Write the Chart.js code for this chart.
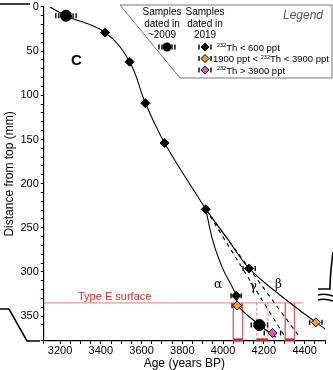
<!DOCTYPE html>
<html>
<head>
<meta charset="utf-8">
<script src="https://cdn.jsdelivr.net/npm/chart.js@4.4.1/dist/chart.umd.min.js"></script>
<style>
  html, body { margin: 0; padding: 0; background: #fff; }
  #wrap { width: 333px; height: 370px; }
</style>
</head>
<body>
<div id="wrap"><canvas id="ageChart" width="333" height="370"></canvas></div>
<script>
// age model curves (age BP, depth mm)
var mainCurve = [[3150, 0], [3229, 10], [3421, 29], [3541, 62], [3619, 109], [3713, 154], [3915, 229]];
var alphaCurve = [[3915, 229], [3950, 265], [4000, 297], [4045, 317], [4066, 328], [4072, 338], [4178, 360], [4260, 374]];
var betaCurve = [[3915, 229], [4020, 262], [4128, 296], [4290, 328], [4455, 357], [4510, 366]];
var gammaLeft = [[3915, 229], [4300, 372]];
var gammaRight = [[3915, 229], [4370, 372]];

// samples
var black2009 = [[3229, 10], [4178, 360]];
var black2009Err = [50, 40];
var black2019 = [[3421, 29], [3541, 62], [3619, 109], [3713, 154], [3915, 229], [4128, 296], [4064, 327]];
var black2019Err = [0, 0, 0, 0, 0, 30, 25];
var orange2019 = [[4069, 338], [4455, 357]];
var orange2019Err = [25, 30];
var magenta2019 = [[4242, 369]];
var magenta2019Err = [40];

// Type E surface and the age windows
var typeEDepth = 335;
var typeEEnd = 4390;
var solidWindows = [[4050, 4095], [4305, 4350]];
var dashedWindow = [4165, 4220];

var xMin = 3120, xMax = 4500, yMin = 0, yMax = 378;

var FONT = '"Liberation Sans", Arial, sans-serif';

function toXY(arr) {
    return arr.map(function (p) { return { x: p[0], y: p[1] }; });
}

function verticals(xs, dashed) {
    var pts = [];
    xs.forEach(function (x) {
        pts.push({ x: x, y: typeEDepth });
        pts.push({ x: x, y: yMax });
        pts.push({ x: x, y: null });
    });
    return {
        data: pts, borderColor: 'rgba(220,90,90,0.75)', borderWidth: 1,
        borderDash: dashed ? [3, 2] : [], pointRadius: 0, spanGaps: false, order: 5
    };
}

function curve(arr, dash, tension) {
    return {
        data: toXY(arr), borderColor: '#000', borderWidth: 1.1, borderDash: dash || [],
        pointRadius: 0, tension: tension || 0, order: 4
    };
}

function points(arr, errs, color, style, radius, dotted) {
    return {
        data: toXY(arr), showLine: false, pointStyle: style, pointRadius: radius,
        backgroundColor: color, borderColor: '#000', borderWidth: 1,
        xErr: errs, dottedErr: dotted, order: 1
    };
}

var datasets = [
    verticals([solidWindows[0][0], solidWindows[0][1], solidWindows[1][0], solidWindows[1][1]], false),
    verticals(dashedWindow, true),
    {
        data: [{ x: xMin, y: typeEDepth }, { x: typeEEnd, y: typeEDepth }],
        borderColor: 'rgba(225,110,110,0.7)', borderWidth: 1.2, pointRadius: 0, order: 5
    },
    curve(mainCurve, null, 0.4),
    curve(alphaCurve, null, 0.35),
    curve(betaCurve, null, 0.4),
    curve(gammaLeft, [4, 4], 0),
    curve(gammaRight, [4, 4], 0),
    points(black2019, black2019Err, '#000', 'rectRot', 4.5, false),
    points(orange2019, orange2019Err, '#f39a2b', 'rectRot', 4.5, false),
    points(magenta2019, magenta2019Err, '#e44bd0', 'rectRot', 4.5, false),
    points(black2009, black2009Err, '#000', 'circle', 5.5, true)
];

function errBar(ctx, cx, cy, half, dotted) {
    ctx.save();
    ctx.strokeStyle = '#000';
    ctx.lineWidth = 1.4;
    ctx.beginPath();
    ctx.moveTo(cx - half, cy - 2.5); ctx.lineTo(cx - half, cy + 2.5);
    ctx.moveTo(cx + half, cy - 2.5); ctx.lineTo(cx + half, cy + 2.5);
    if (dotted) {
        ctx.moveTo(cx - half + 3, cy - 2.5); ctx.lineTo(cx - half + 3, cy + 2.5);
        ctx.moveTo(cx + half - 3, cy - 2.5); ctx.lineTo(cx + half - 3, cy + 2.5);
    }
    ctx.stroke();
    ctx.restore();
}

function diamond(ctx, x, y, r, fill) {
    ctx.beginPath();
    ctx.moveTo(x, y - r); ctx.lineTo(x + r, y); ctx.lineTo(x, y + r); ctx.lineTo(x - r, y);
    ctx.closePath();
    ctx.fillStyle = fill; ctx.fill();
    ctx.strokeStyle = '#000'; ctx.lineWidth = 1; ctx.stroke();
}

function thText(ctx, x, y, before, after) {
    ctx.font = '9.5px ' + FONT;
    ctx.fillText(before, x, y);
    x += ctx.measureText(before).width;
    ctx.font = '5.5px ' + FONT;
    ctx.fillText('232', x, y - 3.5);
    x += ctx.measureText('232').width;
    ctx.font = '9.5px ' + FONT;
    ctx.fillText('Th' + after, x, y);
}

var errorBars = {
    id: 'errorBars',
    beforeDatasetsDraw: function (chart) {
        var ctx = chart.ctx;
        var xs = chart.scales.x;
        chart.data.datasets.forEach(function (ds, i) {
            if (!ds.xErr) return;
            chart.getDatasetMeta(i).data.forEach(function (el, j) {
                var e = ds.xErr[j];
                if (!e) return;
                var half = xs.getPixelForValue(ds.data[j].x + e) - el.x;
                errBar(ctx, el.x, el.y, half, ds.dottedErr);
            });
        });
    }
};

var extras = {
    id: 'extras',
    afterDraw: function (chart) {
        var ctx = chart.ctx;
        var xs = chart.scales.x, ys = chart.scales.y;
        var X = function (v) { return xs.getPixelForValue(v); };
        var Y = function (v) { return ys.getPixelForValue(v); };
        var bottom = chart.chartArea.bottom;

        ctx.save();
        // thick red marks on the age axis
        ctx.strokeStyle = '#c0282d';
        ctx.lineWidth = 3;
        solidWindows.concat([dashedWindow]).forEach(function (w) {
            ctx.beginPath();
            ctx.moveTo(X(w[0]), bottom - 1);
            ctx.lineTo(X(w[1]), bottom - 1);
            ctx.stroke();
        });

        ctx.fillStyle = '#cc2a2a';
        ctx.font = '11px ' + FONT;
        ctx.textAlign = 'left';
        ctx.textBaseline = 'alphabetic';
        ctx.fillText('Type E surface', 78, Y(typeEDepth) - 3);

        ctx.fillStyle = '#000';
        ctx.font = 'bold 15px ' + FONT;
        ctx.fillText('C', 71, 65);

        ctx.font = '12px "DejaVu Serif", "Liberation Serif", serif';
        ctx.textAlign = 'center';
        ctx.fillText('\u03b1', X(3975), Y(318));
        ctx.fillText('\u03b3', X(4148), Y(320));
        ctx.fillText('\u03b2', X(4272), Y(318));

        // broken-axis marks outside the frame
        ctx.strokeStyle = '#000';
        ctx.lineWidth = 1.6;
        ctx.beginPath();
        ctx.moveTo(0, 4); ctx.lineTo(30, 4);
        ctx.moveTo(0, 309); ctx.lineTo(9, 309); ctx.lineTo(27, 341); ctx.lineTo(40, 341);
        ctx.moveTo(333, 252); ctx.quadraticCurveTo(330, 275, 330, 289); ctx.lineTo(318, 289);
        ctx.moveTo(318, 295); ctx.quadraticCurveTo(325, 293, 333, 296);
        ctx.moveTo(318, 300); ctx.quadraticCurveTo(325, 298, 333, 301);
        ctx.stroke();

        // legend panel
        ctx.beginPath();
        ctx.moveTo(120, 5); ctx.lineTo(332, 5); ctx.lineTo(332, 78); ctx.lineTo(180, 78);
        ctx.closePath();
        ctx.fillStyle = '#fff';
        ctx.fill();
        ctx.strokeStyle = '#777';
        ctx.lineWidth = 1;
        ctx.stroke();

        ctx.fillStyle = '#000';
        ctx.font = '10px ' + FONT;
        ctx.textAlign = 'center';
        ctx.fillText('Samples', 162, 15);
        ctx.fillText('dated in', 162, 27);
        ctx.fillText('~2009', 162, 38);
        ctx.fillText('Samples', 205, 15);
        ctx.fillText('dated in', 205, 27);
        ctx.fillText('2019', 205, 38);

        ctx.fillStyle = '#555';
        ctx.font = 'italic 12px ' + FONT;
        ctx.fillText('Legend', 303, 19);

        errBar(ctx, 167, 47, 8, true);
        ctx.beginPath(); ctx.arc(167, 47, 4.5, 0, Math.PI * 2);
        ctx.fillStyle = '#000'; ctx.fill();

        var rows = [[47, '#000'], [58.5, '#f39a2b'], [70, '#e44bd0']];
        rows.forEach(function (r) {
            errBar(ctx, 205, r[0], 6, false);
            diamond(ctx, 205, r[0], 4, r[1]);
        });
        ctx.fillStyle = '#000';
        ctx.textAlign = 'left';
        thText(ctx, 217, 50.5, '', ' < 600 ppt');
        thText(ctx, 213, 62, '1900 ppt < ', ' < 3900 ppt');
        thText(ctx, 217, 73.5, '', ' > 3900 ppt');
        ctx.restore();
    }
};

var ctx = document.getElementById('ageChart').getContext('2d');
var ageChart = new Chart(ctx, {
    type: 'line',
    data: { datasets: datasets },
    options: {
        responsive: false,
        animation: false,
        layout: { padding: { left: 2, right: 8, top: 0, bottom: 0 } },
        plugins: { legend: { display: false }, tooltip: { enabled: false } },
        scales: {
            x: {
                type: 'linear', min: xMin, max: xMax,
                border: { display: true, color: '#000', width: 1.2 },
                grid: { display: true, drawOnChartArea: false, drawTicks: true, tickLength: 3, color: '#000' },
                ticks: {
                    stepSize: 50, autoSkip: false, maxRotation: 0, padding: 1, color: '#000',
                    font: { family: FONT, size: 11, lineHeight: 1.1 },
                    callback: function (v) { return v % 200 === 0 ? String(v) : ''; }
                },
                title: { display: true, text: 'Age (years BP)', color: '#000', font: { family: FONT, size: 12, lineHeight: 1.0 }, padding: { top: 0, bottom: 0 } }
            },
            y: {
                type: 'linear', reverse: true, min: yMin, max: yMax,
                border: { display: true, color: '#000', width: 1.2 },
                grid: { display: true, drawOnChartArea: false, drawTicks: true, tickLength: 3, color: '#000' },
                ticks: {
                    stepSize: 10, autoSkip: false, padding: 2, color: '#000',
                    font: { family: FONT, size: 11, lineHeight: 0.9 },
                    callback: function (v) { return v % 50 === 0 ? String(v) : ''; }
                },
                title: { display: true, text: 'Distance from top (mm)', color: '#000', font: { family: FONT, size: 12 }, padding: { top: 0, bottom: 2 } }
            }
        }
    },
    plugins: [errorBars, extras]
});
</script>
</body>
</html>
